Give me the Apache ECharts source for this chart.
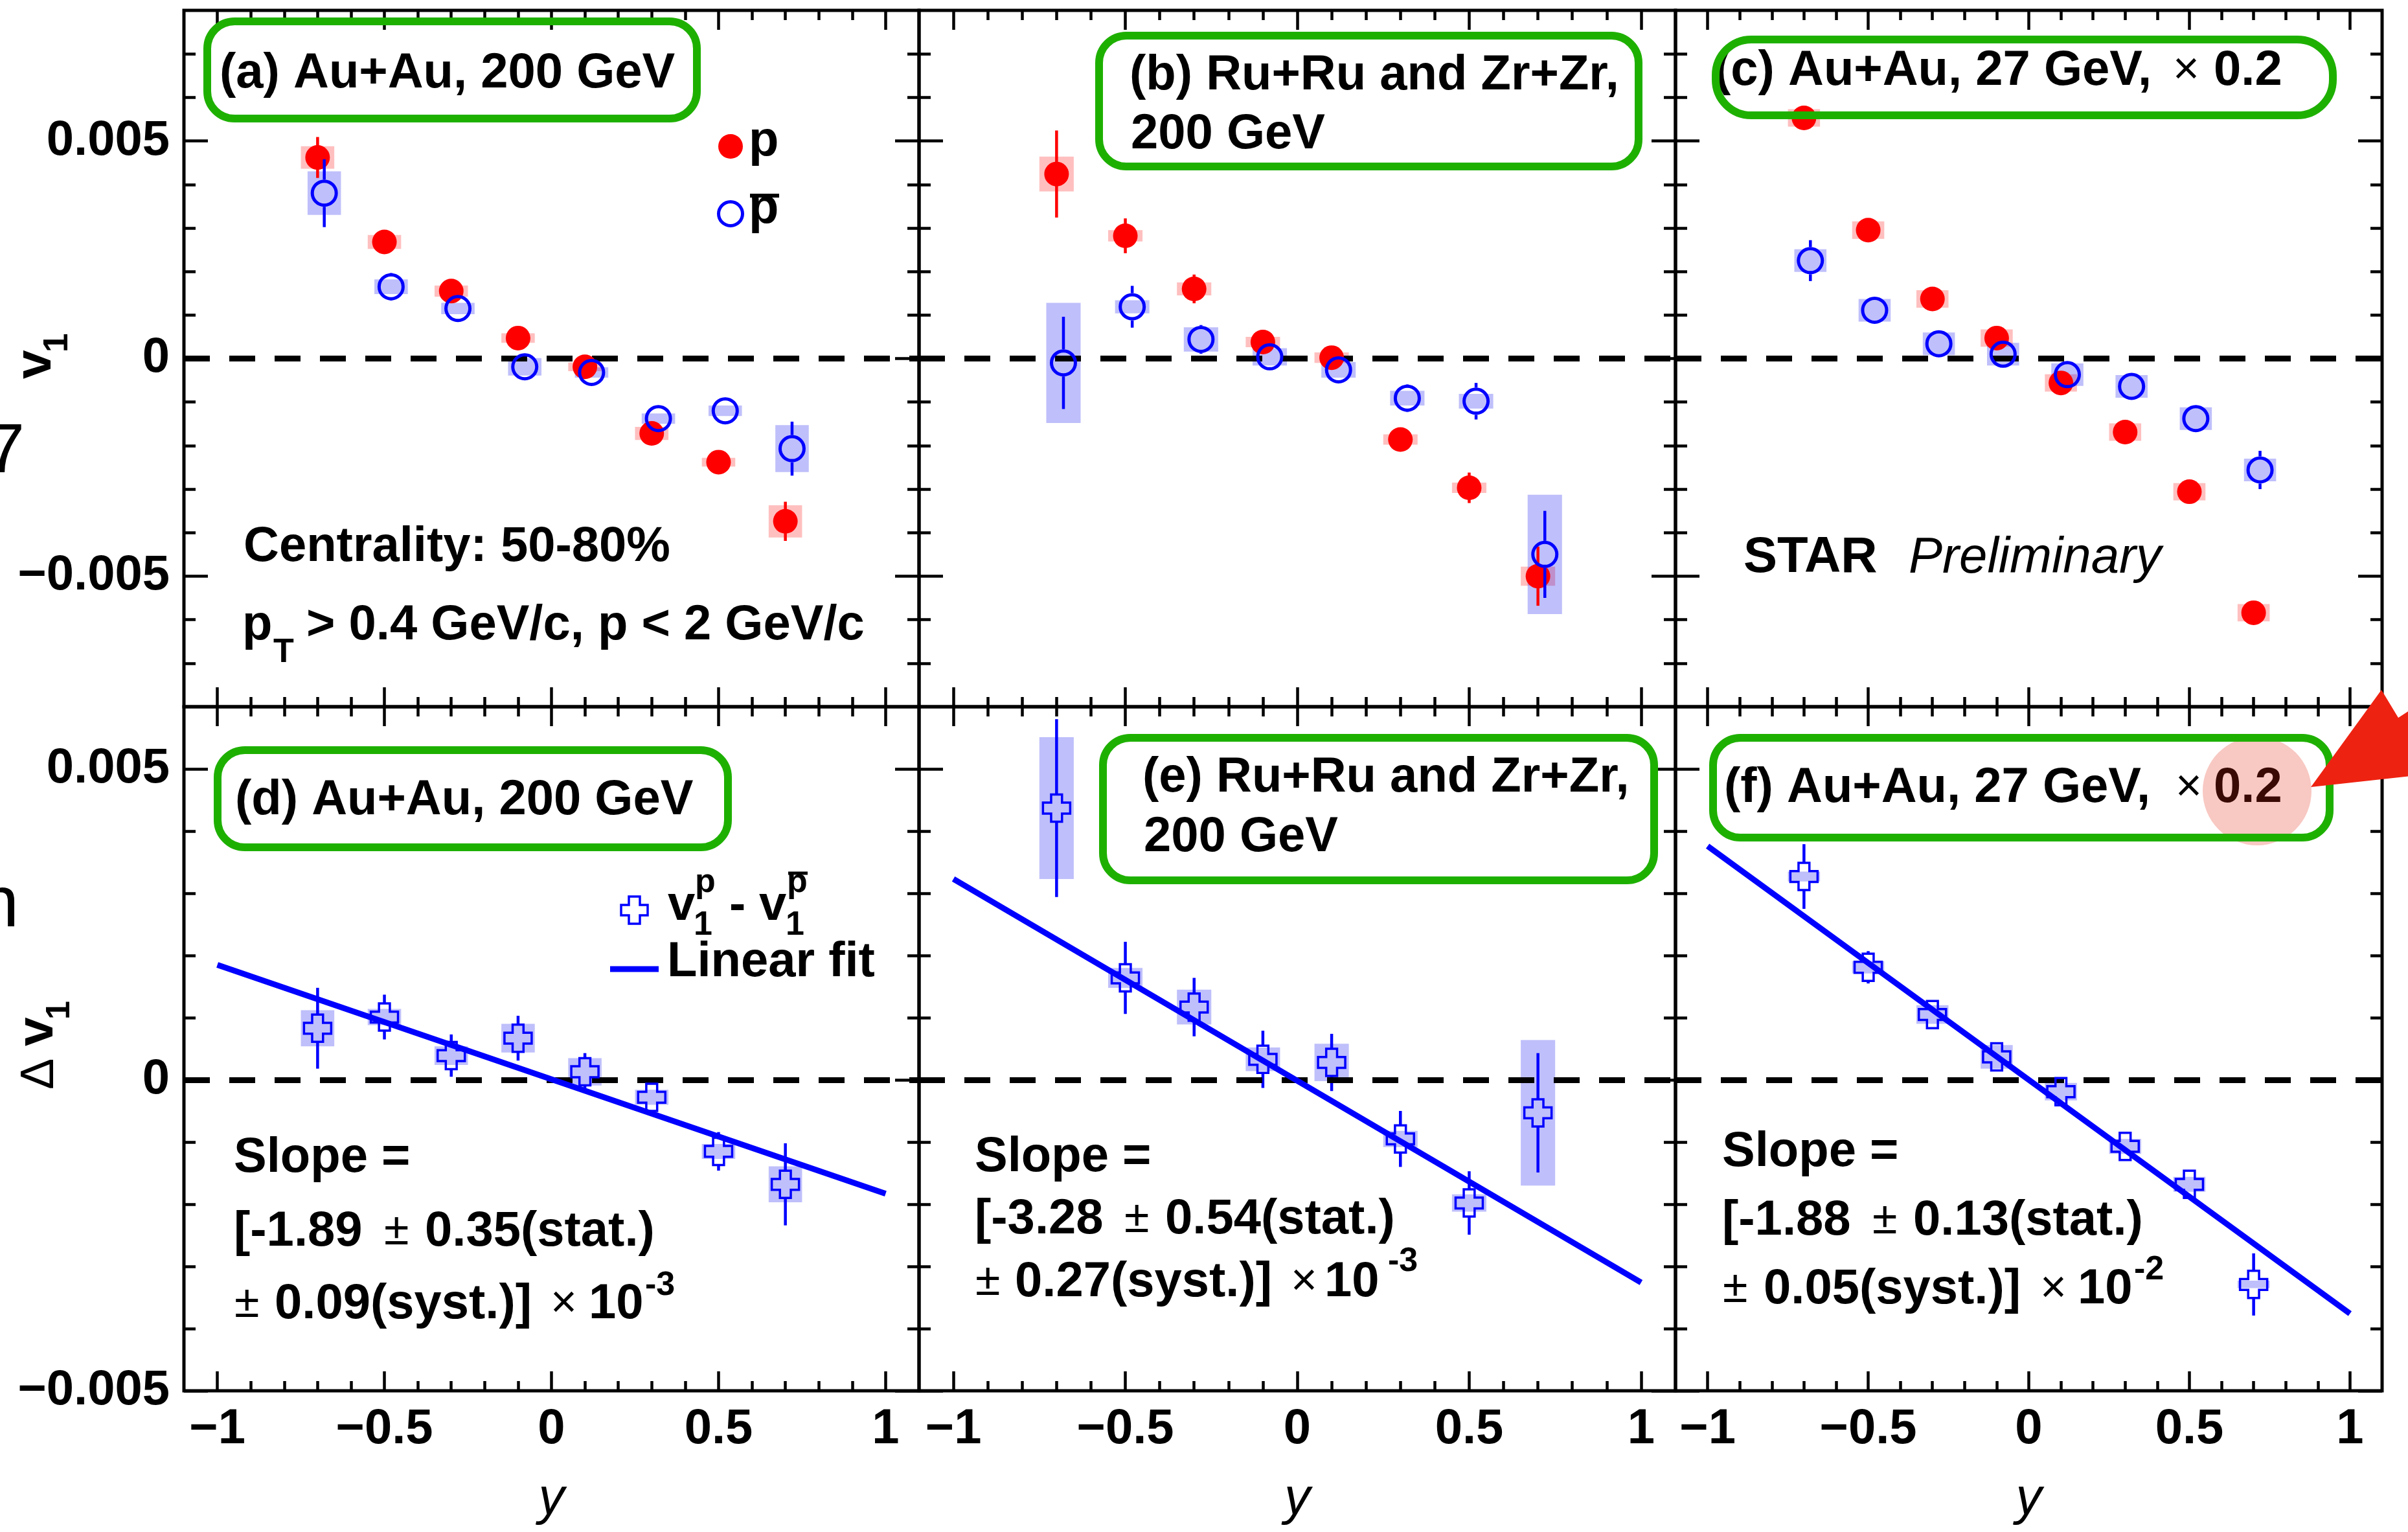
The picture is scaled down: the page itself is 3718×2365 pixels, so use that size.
<!DOCTYPE html>
<html>
<head>
<meta charset="utf-8">
<script src="https://cdn.jsdelivr.net/npm/echarts@6/dist/echarts.min.js"></script>
<style>
html, body { margin: 0; padding: 0; background: #fff; }
#chart { width: 3718px; height: 2365px; }
</style>
</head>
<body>
<div id="chart"></div>
<script>
// rapidity bins, antiproton points drawn slightly shifted
var yBins = [-0.7, -0.5, -0.3, -0.1, 0.1, 0.3, 0.5, 0.7];
var pbarShift = 0.02;

// (a) Au+Au 200 GeV
var aP        = [0.00462, 0.00268, 0.00155, 0.00047, -0.00019, -0.00172, -0.00238, -0.00374];
var aPStat    = [0.00047, 0.00012, 0.00012, 0.00012, 0.00012, 0.00012, 0.00012, 0.00045];
var aPSys     = [0.00026, 0.00016, 0.00013, 0.00011, 0.0001, 0.00015, 0.0001, 0.00037];
var aPbar     = [0.0038, 0.00165, 0.00115, -0.00019, -0.00032, -0.00138, -0.0012, -0.00207];
var aPbarStat = [0.00078, 0.00032, 0.0002, 0.0002, 0.0002, 0.0002, 0.0002, 0.00062];
var aPbarSys  = [0.0005, 0.00017, 0.00013, 0.0002, 0.00012, 0.00012, 0.00012, 0.00054];

// (b) Ru+Ru and Zr+Zr 200 GeV
var bP        = [0.00424, 0.00282, 0.0016, 0.00038, 0.00002, -0.00186, -0.00297, -0.005];
var bPStat    = [0.001, 0.0004, 0.00033, 0.00025, 0.00025, 0.00025, 0.00035, 0.00068];
var bPSys     = [0.0004, 0.00013, 0.00015, 0.00012, 0.00012, 0.00012, 0.00012, 0.00022];
var bPbar     = [-0.0001, 0.00119, 0.00044, 0.00004, -0.00026, -0.00091, -0.00098, -0.0045];
var bPbarStat = [0.00106, 0.00048, 0.00033, 0.0003, 0.0003, 0.00032, 0.00042, 0.001];
var bPbarSys  = [0.00138, 0.00015, 0.00028, 0.0002, 0.00018, 0.00017, 0.00017, 0.00137];

// (c) Au+Au 27 GeV (x 0.2)
var cP        = [0.00553, 0.00295, 0.00137, 0.00047, -0.00056, -0.00169, -0.00306, -0.00584];
var cPStat    = [0.0002, 0.0002, 0.0002, 0.0002, 0.0002, 0.0002, 0.0002, 0.0002];
var cPSys     = [0.0002, 0.0002, 0.0002, 0.0002, 0.0002, 0.0002, 0.0002, 0.0002];
var cPbar     = [0.00225, 0.00111, 0.00034, 0.0001, -0.00037, -0.00064, -0.00138, -0.00256];
var cPbarStat = [0.00047, 0.0002, 0.0002, 0.0002, 0.0002, 0.0002, 0.0002, 0.00044];
var cPbarSys  = [0.00026, 0.00026, 0.00026, 0.00026, 0.00026, 0.00026, 0.00026, 0.00026];

// (d) delta v1, Au+Au 200 GeV
var dDiff     = [0.00083, 0.00101, 0.00039, 0.00067, 0.00013, -0.00028, -0.00115, -0.00168];
var dDiffStat = [0.00065, 0.00036, 0.00034, 0.00036, 0.0003, 0.00022, 0.00031, 0.00066];
var dDiffSys  = [0.00029, 0.00013, 0.00015, 0.00023, 0.00022, 0.00012, 0.00012, 0.00029];
var dFit      = [[-1, 0.00185], [1, -0.00183]];

// (e) delta v1, isobars 200 GeV
var eDiff     = [0.00437, 0.00164, 0.00117, 0.00033, 0.00028, -0.00095, -0.00198, -0.00053];
var eDiffStat = [0.00143, 0.00058, 0.00047, 0.00046, 0.00046, 0.00045, 0.00051, 0.00096];
var eDiffSys  = [0.00114, 0.00016, 0.00028, 0.00019, 0.0003, 0.00013, 0.00014, 0.00117];
var eFit      = [[-1, 0.00323], [1, -0.00326]];

// (f) delta v1, Au+Au 27 GeV (x 0.2)
var fDiff     = [0.00327, 0.00181, 0.00105, 0.00037, -0.00019, -0.00107, -0.00168, -0.00329];
var fDiffStat = [0.00052, 0.00026, 0.0002, 0.0002, 0.0002, 0.0002, 0.00023, 0.0005];
var fDiffSys  = [0.00008, 0.0001, 0.00015, 0.00019, 0.00014, 0.00012, 0.00012, 0.00006];
var fFit      = [[-1, 0.00376], [1, -0.00376]];

// tick positions
var xMajor = [-1, -0.5, 0, 0.5, 1];
var xMinor = [-1, -0.9, -0.8, -0.7, -0.6, -0.5, -0.4, -0.3, -0.2, -0.1, 0, 0.1, 0.2, 0.3, 0.4, 0.5, 0.6, 0.7, 0.8, 0.9, 1];
var yMajor = [-0.005, 0, 0.005];
var yMinorTop = [-0.007, -0.006, -0.004, -0.003, -0.002, -0.001, 0.001, 0.002, 0.003, 0.004, 0.006, 0.007];
var yMinorBottom = [-0.004, -0.003, -0.002, -0.001, 0.001, 0.002, 0.003, 0.004];

var FONT = '"Liberation Sans", Arial, Helvetica, sans-serif';
var FB = 'bold 76px ' + FONT;
var FS = 'bold 52px ' + FONT;
var FR = '70px ' + FONT;
var BOX_HALF = 0.05;
var CROSS = 'path://M3,0L7,0L7,3L10,3L10,7L7,7L7,10L3,10L3,7L0,7L0,3L3,3Z';

var layout = [
  { left: 284,  top: 16,   width: 1135, height: 1075, row: 0 },
  { left: 1419, top: 16,   width: 1168, height: 1075, row: 0 },
  { left: 2587, top: 16,   width: 1091, height: 1075, row: 0 },
  { left: 284,  top: 1091, width: 1135, height: 1056, row: 1 },
  { left: 1419, top: 1091, width: 1168, height: 1056, row: 1 },
  { left: 2587, top: 1091, width: 1091, height: 1056, row: 1 }
];

function minusFmt(v) { return v === 0 ? '0' : String(v).replace('-', '\u2212'); }

var grids = [], xAxes = [], yAxes = [], series = [];

layout.forEach(function (L, gi) {
  grids.push({ left: L.left, top: L.top, width: L.width, height: L.height, show: true,
    borderColor: '#000', borderWidth: 5, backgroundColor: 'transparent', outerBoundsMode: 'none' });
  var ymin = L.row === 0 ? -0.008 : -0.005;
  var ymax = L.row === 0 ? 0.008 : 0.006;
  var yMinor = L.row === 0 ? yMinorTop : yMinorBottom;
  var tickStyle = { color: '#000', width: 4.5 };
  var labStyle = { color: '#000', fontSize: 76, fontWeight: 'bold', fontFamily: FONT, formatter: minusFmt, margin: 22 };

  function xa(pos, vals, len, withLabel) {
    var ax = { type: 'value', gridIndex: gi, position: pos, min: -1.1, max: 1.1,
      axisLine: { show: false, onZero: false }, splitLine: { show: false },
      axisTick: { show: true, inside: true, length: len, lineStyle: tickStyle, customValues: vals },
      axisLabel: Object.assign({ show: withLabel, customValues: vals }, labStyle) };
    if (withLabel) {
      ax.name = 'y'; ax.nameLocation = 'middle'; ax.nameGap = 128;
      ax.nameTextStyle = { fontSize: 80, fontStyle: 'italic', fontFamily: FONT, color: '#000' };
    }
    return ax;
  }
  function ya(pos, vals, len, withLabel) {
    return { type: 'value', gridIndex: gi, position: pos, min: ymin, max: ymax,
      axisLine: { show: false, onZero: false }, splitLine: { show: false },
      axisTick: { show: true, inside: true, length: len, lineStyle: tickStyle, customValues: vals },
      axisLabel: Object.assign({ show: withLabel, customValues: vals }, labStyle) };
  }
  var bottomRow = L.row === 1;
  var leftCol = gi % 3 === 0;
  xAxes.push(xa('bottom', xMajor, 30, bottomRow), xa('bottom', xMinor, 15, false),
             xa('top', xMajor, 30, false), xa('top', xMinor, 15, false));
  yAxes.push(ya('left', yMajor, 37, leftCol), ya('left', yMinor, 18, false),
             ya('right', yMajor, 37, false), ya('right', yMinor, 18, false));
});

function rows(vals, errs, shift) {
  return yBins.map(function (b, i) { return [b + shift, vals[i], errs[i]]; });
}
function pts(vals, shift) {
  return yBins.map(function (b, i) { return [b + shift, vals[i]]; });
}

function boxSeries(gi, data, fill) {
  return { type: 'custom', xAxisIndex: 4 * gi, yAxisIndex: 4 * gi, z: 2, silent: true, clip: true,
    data: data,
    renderItem: function (params, api) {
      var x = api.value(0), y = api.value(1), s = api.value(2);
      var p1 = api.coord([x - BOX_HALF, y + s]);
      var p2 = api.coord([x + BOX_HALF, y - s]);
      return { type: 'rect', shape: { x: p1[0], y: p1[1], width: p2[0] - p1[0], height: p2[1] - p1[1] },
        style: { fill: fill } };
    } };
}

function errSeries(gi, data, color, gap, z) {
  return { type: 'custom', xAxisIndex: 4 * gi, yAxisIndex: 4 * gi, z: z, silent: true, clip: true,
    data: data,
    renderItem: function (params, api) {
      var x = api.value(0), y = api.value(1), e = api.value(2);
      var c = api.coord([x, y]), t = api.coord([x, y + e]), b = api.coord([x, y - e]);
      var kids = [];
      var st = { stroke: color, lineWidth: 4.5 };
      if (c[1] - t[1] > gap) kids.push({ type: 'line', shape: { x1: c[0], y1: t[1], x2: c[0], y2: c[1] - gap }, style: st });
      if (b[1] - c[1] > gap) kids.push({ type: 'line', shape: { x1: c[0], y1: c[1] + gap, x2: c[0], y2: b[1] }, style: st });
      return { type: 'group', children: kids };
    } };
}

function zeroSeries(gi) {
  return { type: 'line', xAxisIndex: 4 * gi, yAxisIndex: 4 * gi, data: [], z: 3, silent: true,
    markLine: { silent: true, symbol: ['none', 'none'], label: { show: false }, emphasis: { disabled: true },
      lineStyle: { color: '#000', width: 9, type: [40, 30] }, data: [{ yAxis: 0 }] } };
}

function topPanel(gi, p, pStat, pSys, pb, pbStat, pbSys) {
  series.push(
    boxSeries(gi, rows(p, pSys, 0), 'rgba(255,0,0,0.25)'),
    boxSeries(gi, rows(pb, pbSys, pbarShift), 'rgba(0,0,240,0.25)'),
    zeroSeries(gi),
    errSeries(gi, rows(p, pStat, 0), '#ff0000', 0, 4),
    { type: 'scatter', xAxisIndex: 4 * gi, yAxisIndex: 4 * gi, z: 5, silent: true, data: pts(p, 0),
      symbol: 'circle', symbolSize: 38, itemStyle: { color: '#ff0000', opacity: 1 } },
    errSeries(gi, rows(pb, pbStat, pbarShift), '#0000ff', 21, 6),
    { type: 'scatter', xAxisIndex: 4 * gi, yAxisIndex: 4 * gi, z: 7, silent: true, data: pts(pb, pbarShift),
      symbol: 'circle', symbolSize: 37, itemStyle: { color: 'rgba(0,0,0,0)', borderColor: '#0000ff', borderWidth: 5, opacity: 1 } }
  );
}

function bottomPanel(gi, d, dStat, dSys, fit) {
  series.push(
    boxSeries(gi, rows(d, dSys, 0), 'rgba(0,0,240,0.25)'),
    zeroSeries(gi),
    errSeries(gi, rows(d, dStat, 0), '#0000ff', 21, 4),
    { type: 'scatter', xAxisIndex: 4 * gi, yAxisIndex: 4 * gi, z: 5, silent: true, data: pts(d, 0),
      symbol: CROSS, symbolSize: 42, itemStyle: { color: 'rgba(0,0,0,0)', borderColor: '#0000ff', borderWidth: 3.5, opacity: 1 } },
    { type: 'line', xAxisIndex: 4 * gi, yAxisIndex: 4 * gi, z: 6, silent: true, data: fit,
      symbol: 'none', lineStyle: { color: '#0000ff', width: 9 } }
  );
}

topPanel(0, aP, aPStat, aPSys, aPbar, aPbarStat, aPbarSys);
topPanel(1, bP, bPStat, bPSys, bPbar, bPbarStat, bPbarSys);
topPanel(2, cP, cPStat, cPSys, cPbar, cPbarStat, cPbarSys);
bottomPanel(3, dDiff, dDiffStat, dDiffSys, dFit);
bottomPanel(4, eDiff, eDiffStat, eDiffSys, eFit);
bottomPanel(5, fDiff, fDiffStat, fDiffSys, fFit);

// ---- annotations ----
function txt(x, y, s, font, color) {
  return { type: 'text', x: x, y: y, z: 100, silent: true,
    style: { text: s, font: font, fill: color || '#000', textAlign: 'left', textVerticalAlign: 'middle',
      align: 'left', verticalAlign: 'middle' } };
}
function gbox(x, y, w, h, r) {
  return { type: 'rect', z: 102, silent: true, shape: { x: x, y: y, width: w, height: h, r: r },
    style: { fill: 'none', stroke: '#1eb000', lineWidth: 12 } };
}
function seg(x1, y1, x2, y2, w, color) {
  return { type: 'line', z: 100, silent: true, shape: { x1: x1, y1: y1, x2: x2, y2: y2 },
    style: { stroke: color || '#000', lineWidth: w } };
}

var g = [];
// cut-off glyphs at the left edge
g.push(txt(-22, 699, '7', '108px ' + FONT), txt(-33, 1399, 'n', '112px ' + FONT));
// y axis titles
g.push({ type: 'group', x: 74, y: 554, rotation: Math.PI / 2, children: [
  txt(-31, -18, 'v', 'bold 80px ' + FONT), txt(10, 15, '1', 'bold 53px ' + FONT)] });
g.push({ type: 'group', x: 74, y: 1616, rotation: Math.PI / 2, children: [
  txt(-66, -12, '\u0394', '72px ' + FONT), txt(1, -15, 'v', 'bold 80px ' + FONT), txt(42, 19, '1', 'bold 52px ' + FONT)] });

// (a)
g.push(gbox(320, 33, 756, 150, 42), txt(339, 114, '(a) Au+Au, 200 GeV', FB));
g.push({ type: 'circle', z: 100, silent: true, shape: { cx: 1128, cy: 226, r: 19 }, style: { fill: '#ff0000' } });
g.push(txt(1156, 219, 'p', FB));
g.push({ type: 'circle', z: 100, silent: true, shape: { cx: 1128, cy: 330, r: 18.5 }, style: { fill: 'none', stroke: '#0000ff', lineWidth: 5 } });
g.push(txt(1156, 323, 'p', FB), seg(1158, 302, 1203, 302, 6));
g.push(txt(376, 845, 'Centrality: 50-80%', FB));
g.push(txt(374, 966, 'p', FB), txt(422, 1008, 'T', FS), txt(473, 966, '> 0.4 GeV/c, p < 2 GeV/c', FB));

// (b)
g.push(gbox(1697, 55, 833, 202, 42), txt(1744, 117, '(b) Ru+Ru and Zr+Zr,', FB), txt(1746, 208, '200 GeV', FB));

// (c)
g.push(gbox(2649, 61, 953, 117, 55), txt(2647, 110, '(c) Au+Au, 27 GeV,', FB), txt(3355, 110, '\u00d7', FR), txt(3418, 110, '0.2', FB));
g.push(txt(2692, 861, 'STAR', 'bold 78px ' + FONT), txt(2947, 862, 'Preliminary', 'italic 78px ' + FONT));

// (d)
g.push(gbox(336, 1158, 788, 150, 42), txt(363, 1236, '(d) Au+Au, 200 GeV', FB));
g.push({ type: 'polygon', z: 100, silent: true, shape: { points: [
  [971, 1384], [988, 1384], [988, 1397], [1000, 1397], [1000, 1413], [988, 1413], [988, 1426],
  [971, 1426], [971, 1413], [959, 1413], [959, 1397], [971, 1397]] },
  style: { fill: 'none', stroke: '#0000ff', lineWidth: 3.5 } });
g.push(txt(1031, 1399, 'v', FB), txt(1073, 1363, 'p', FS), txt(1071, 1429, '1', FS), txt(1126, 1399, '-', FB),
  txt(1172, 1399, 'v', FB), txt(1215, 1363, 'p', FS), seg(1217, 1348, 1247, 1348, 5), txt(1213, 1429, '1', FS));
g.push(seg(942, 1496, 1017, 1496, 9, '#0000ff'), txt(1030, 1486, 'Linear fit', FB));
g.push(txt(361, 1788, 'Slope =', FB),
  txt(361, 1902, '[-1.89', FB), txt(593, 1902, '\u00b1', FR), txt(656, 1902, '0.35(stat.)', FB),
  txt(362, 2014, '\u00b1', FR), txt(424, 2014, '0.09(syst.)]', FB), txt(850, 2014, '\u00d7', FR),
  txt(909, 2014, '10', FB), txt(996, 1985, '-3', FS));

// (e)
g.push(gbox(1703, 1139, 851, 220, 42), txt(1764, 1201, '(e) Ru+Ru and Zr+Zr,', FB), txt(1766, 1293, '200 GeV', FB));
g.push(txt(1505, 1787, 'Slope =', FB),
  txt(1505, 1883, '[-3.28', FB), txt(1736, 1883, '\u00b1', FR), txt(1799, 1883, '0.54(stat.)', FB),
  txt(1506, 1980, '\u00b1', FR), txt(1567, 1980, '0.27(syst.)]', FB), txt(1993, 1980, '\u00d7', FR),
  txt(2045, 1980, '10', FB), txt(2143, 1948, '-3', FS));

// (f)
g.push(txt(2662, 1217, '(f) Au+Au, 27 GeV,', FB), txt(3359, 1217, '\u00d7', FR), txt(3418, 1217, '0.2', FB));
g.push({ type: 'circle', z: 101, silent: true, shape: { cx: 3485, cy: 1221, r: 84 }, style: { fill: 'rgba(227,35,11,0.25)' } });
g.push(gbox(2645, 1139, 952, 154, 42));
g.push({ type: 'polygon', z: 103, silent: true, shape: { points: [[3568, 1215], [3677, 1065], [3703, 1108], [3740, 1084], [3740, 1196]] },
  style: { fill: '#ee2211' } });
g.push(txt(2659, 1779, 'Slope =', FB),
  txt(2659, 1885, '[-1.88', FB), txt(2891, 1885, '\u00b1', FR), txt(2954, 1885, '0.13(stat.)', FB),
  txt(2660, 1991, '\u00b1', FR), txt(2723, 1991, '0.05(syst.)]', FB), txt(3150, 1991, '\u00d7', FR),
  txt(3208, 1991, '10', FB), txt(3295, 1961, '-2', FS));

var chart = echarts.init(document.getElementById('chart'), null, { renderer: 'canvas' });
chart.setOption({
  animation: false,
  backgroundColor: '#fff',
  grid: grids,
  xAxis: xAxes,
  yAxis: yAxes,
  series: series,
  graphic: { elements: g }
});
</script>
</body>
</html>
